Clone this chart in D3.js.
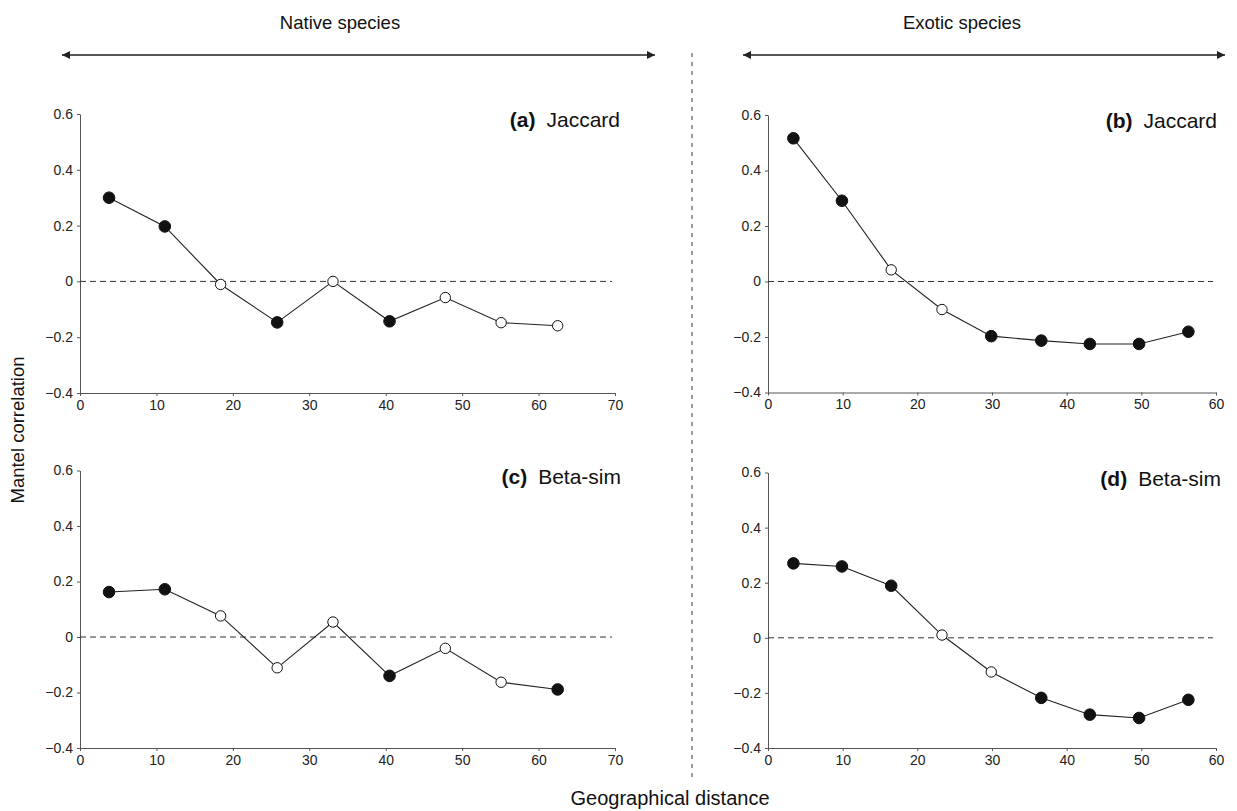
<!DOCTYPE html>
<html>
<head>
<meta charset="utf-8">
<script src="https://cdn.jsdelivr.net/npm/d3@7"></script>
<style>
  body { margin: 0; background: #fff; }
  svg { font-family: "Liberation Sans", Arial, sans-serif; }
  .axis path, .axis line { stroke: #555; }
  .axis text { font-size: 14px; fill: #222; }
</style>
</head>
<body>
<script>
// distance classes (midpoints)
var nativeDist = [3.8, 11.1, 18.4, 25.8, 33.1, 40.5, 47.8, 55.1, 62.5]
var exoticDist = [3.4, 9.9, 16.5, 23.3, 29.9, 36.6, 43.1, 49.7, 56.3]

// mantel correlations, 1 = significant (filled dot)
var jaccardNative = [0.30, 0.197, -0.011, -0.147, 0.0, -0.143, -0.058, -0.148, -0.159]
var jaccardNativeSig = [1, 1, 0, 1, 0, 1, 0, 0, 0]
var jaccardExotic = [0.516, 0.291, 0.042, -0.101, -0.197, -0.213, -0.225, -0.225, -0.181]
var jaccardExoticSig = [1, 1, 0, 0, 1, 1, 1, 1, 1]
var betaNative = [0.162, 0.172, 0.076, -0.111, 0.054, -0.14, -0.041, -0.163, -0.189]
var betaNativeSig = [1, 1, 0, 0, 0, 1, 0, 0, 1]
var betaExotic = [0.270, 0.259, 0.189, 0.010, -0.124, -0.218, -0.279, -0.291, -0.225]
var betaExoticSig = [1, 1, 1, 0, 0, 1, 1, 1, 1]

var yTicks = [-0.4, -0.2, 0, 0.2, 0.4, 0.6]
var nativeXTicks = [0, 10, 20, 30, 40, 50, 60, 70]
var exoticXTicks = [0, 10, 20, 30, 40, 50, 60]

var svg = d3.select('body').append('svg')
  .attr('width', 1237)
  .attr('height', 811)

// panel boxes in page pixels
var panels = [
  { id: 'a', name: 'Jaccard', x: nativeDist, y: jaccardNative, sig: jaccardNativeSig, xMax: 70, xTicks: nativeXTicks,
    left: 80, right: 615, top: 114, bottom: 393, labelEnd: 620 },
  { id: 'b', name: 'Jaccard', x: exoticDist, y: jaccardExotic, sig: jaccardExoticSig, xMax: 60, xTicks: exoticXTicks,
    left: 768, right: 1216, top: 115, bottom: 392.5, labelEnd: 1217 },
  { id: 'c', name: 'Beta-sim', x: nativeDist, y: betaNative, sig: betaNativeSig, xMax: 70, xTicks: nativeXTicks,
    left: 80, right: 615, top: 470.5, bottom: 748, labelEnd: 621 },
  { id: 'd', name: 'Beta-sim', x: exoticDist, y: betaExotic, sig: betaExoticSig, xMax: 60, xTicks: exoticXTicks,
    left: 768, right: 1216, top: 472.5, bottom: 748, labelEnd: 1221 }
]

function fmt(d) {
  if (d === 0) return '0'
  return (d < 0 ? '\u2212' : '') + Math.abs(d).toFixed(1)
}

panels.forEach(function(p) {
  var x = d3.scaleLinear().domain([0, p.xMax]).range([p.left, p.right])
  var y = d3.scaleLinear().domain([-0.4, 0.6]).range([p.bottom, p.top])

  var g = svg.append('g').attr('class', 'panel-' + p.id)

  g.append('g')
    .attr('class', 'axis')
    .attr('transform', `translate(0, ${p.bottom})`)
    .call(d3.axisBottom(x).tickValues(p.xTicks).tickSizeInner(3).tickSizeOuter(0).tickPadding(4).tickFormat(d3.format('d')))

  g.append('g')
    .attr('class', 'axis')
    .attr('transform', `translate(${p.left}, 0)`)
    .call(d3.axisLeft(y).tickValues(yTicks).tickSizeInner(3).tickSizeOuter(0).tickPadding(4).tickFormat(fmt))

  // zero reference
  g.append('line')
    .attr('x1', x(0)).attr('x2', x(p.xMax - 0.4))
    .attr('y1', y(0)).attr('y2', y(0))
    .attr('stroke', '#333')
    .attr('stroke-width', 1)
    .attr('stroke-dasharray', '6,4')

  var pts = p.x.map(function(d, i) { return { x: d, y: p.y[i], sig: p.sig[i] } })

  g.append('path')
    .datum(pts)
    .attr('fill', 'none')
    .attr('stroke', '#222')
    .attr('stroke-width', 1.1)
    .attr('d', d3.line().x(function(d) { return x(d.x) }).y(function(d) { return y(d.y) }))

  g.selectAll('circle')
    .data(pts)
    .enter()
    .append('circle')
    .attr('cx', function(d) { return x(d.x) })
    .attr('cy', function(d) { return y(d.y) })
    .attr('r', function(d) { return d.sig ? 5.8 : 5.2 })
    .attr('fill', function(d) { return d.sig ? '#111' : '#fff' })
    .attr('stroke', '#111')
    .attr('stroke-width', 1)

  var lab = g.append('text')
    .attr('x', p.labelEnd)
    .attr('y', p.top + 13)
    .attr('text-anchor', 'end')
    .style('font-size', '21px')
    .attr('fill', '#111')
  lab.append('tspan').style('font-weight', 'bold').text('(' + p.id + ')')
  lab.append('tspan').attr('dx', 11).text(p.name)
})

// group headers with double arrows
var defs = svg.append('defs')
defs.append('marker')
  .attr('id', 'head')
  .attr('viewBox', '0 0 10 10')
  .attr('refX', 10).attr('refY', 5)
  .attr('markerWidth', 12).attr('markerHeight', 8)
  .attr('markerUnits', 'userSpaceOnUse')
  .attr('orient', 'auto-start-reverse')
  .append('path')
  .attr('d', 'M0,0 L10,5 L0,10 z')
  .attr('fill', '#222')

var groups = [
  { text: 'Native species', x1: 62, x2: 655, cx: 340 },
  { text: 'Exotic species', x1: 743, x2: 1225, cx: 962 }
]

groups.forEach(function(gr) {
  svg.append('text')
    .attr('x', gr.cx).attr('y', 29)
    .attr('text-anchor', 'middle')
    .style('font-size', '18.5px')
    .attr('fill', '#111')
    .text(gr.text)
  svg.append('line')
    .attr('x1', gr.x1).attr('x2', gr.x2)
    .attr('y1', 55).attr('y2', 55)
    .attr('stroke', '#222')
    .attr('stroke-width', 1.3)
    .attr('marker-start', 'url(#head)')
    .attr('marker-end', 'url(#head)')
})

// vertical divider
svg.append('line')
  .attr('x1', 692).attr('x2', 692)
  .attr('y1', 53).attr('y2', 778)
  .attr('stroke', '#333')
  .attr('stroke-width', 1)
  .attr('stroke-dasharray', '4,5')

svg.append('text')
  .attr('transform', 'translate(24, 430) rotate(-90)')
  .attr('text-anchor', 'middle')
  .style('font-size', '18.5px')
  .attr('fill', '#111')
  .text('Mantel correlation')

svg.append('text')
  .attr('x', 670).attr('y', 805)
  .attr('text-anchor', 'middle')
  .style('font-size', '20px')
  .attr('fill', '#111')
  .text('Geographical distance')
</script>
</body>
</html>
